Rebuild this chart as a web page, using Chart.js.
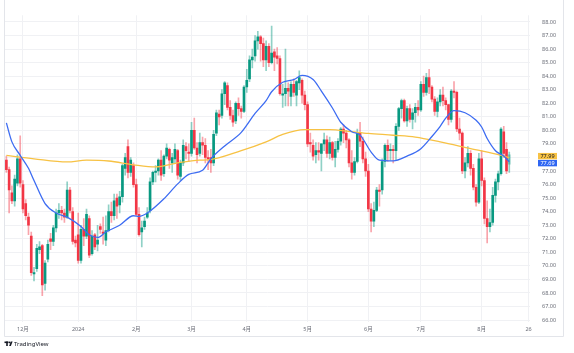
<!DOCTYPE html>
<html lang="ja">
<head>
<meta charset="UTF-8">
<title>WTI daily</title>
<script src="https://cdn.jsdelivr.net/npm/chart.js@4.4.1/dist/chart.umd.min.js"></script>
<style>
  body { margin: 0; background: #fff; }
  #wrap { width: 574px; height: 353px; }
</style>
</head>
<body>
<div id="wrap"><canvas id="chart" width="574" height="353"></canvas></div>
<script>
// trading days shown (MM/DD), Nov 2023 -> Aug 2024
const days = [
  '11/22','11/24','11/27','11/28','11/29','11/30',
  '12/01','12/04','12/05','12/06','12/07','12/08','12/11','12/12','12/13','12/14','12/15','12/18','12/19','12/20','12/21','12/22','12/26','12/27','12/28','12/29',
  '01/02','01/03','01/04','01/05','01/08','01/09','01/10','01/11','01/12','01/16','01/17','01/18','01/19','01/22','01/23','01/24','01/25','01/26','01/29','01/30','01/31',
  '02/01','02/02','02/05','02/06','02/07','02/08','02/09','02/12','02/13','02/14','02/15','02/16','02/20','02/21','02/22','02/23','02/26','02/27','02/28','02/29',
  '03/01','03/04','03/05','03/06','03/07','03/08','03/11','03/12','03/13','03/14','03/15','03/18','03/19','03/20','03/21','03/22','03/25','03/26','03/27','03/28',
  '04/01','04/02','04/03','04/04','04/05','04/08','04/09','04/10','04/11','04/12','04/15','04/16','04/17','04/18','04/19','04/22','04/23','04/24','04/25','04/26','04/29','04/30',
  '05/01','05/02','05/03','05/06','05/07','05/08','05/09','05/10','05/13','05/14','05/15','05/16','05/17','05/20','05/21','05/22','05/23','05/24','05/28','05/29','05/30','05/31',
  '06/03','06/04','06/05','06/06','06/07','06/10','06/11','06/12','06/13','06/14','06/17','06/18','06/20','06/21','06/24','06/25','06/26','06/27','06/28',
  '07/01','07/02','07/03','07/05','07/08','07/09','07/10','07/11','07/12','07/15','07/16','07/17','07/18','07/19','07/22','07/23','07/24','07/25','07/26','07/29','07/30','07/31',
  '08/01','08/02','08/05','08/06','08/07','08/08','08/09','08/12','08/13','08/14','08/15'
];
// empty slots to the right of the last candle
const futureDays = ['08/16','08/19','08/20','08/21','08/22','08/23','08/26'];

// [open, high, low, close]
const candles = [
  [77.8,78.1,76.9,77.1],[77.1,77.3,73.9,75.6],[75.4,75.9,74.6,74.8],[74.8,76.7,74.4,76.4],[76.1,78.2,75.9,77.9],[77.9,79.6,75.8,76.1],
  [76.0,76.3,73.9,74.2],[74.6,74.9,73.4,73.7],[73.6,73.9,72.3,73.0],[72.2,72.5,69.3,69.5],[69.4,69.9,68.9,69.5],[69.8,71.6,69.6,71.3],
  [71.2,71.8,70.9,71.4],[71.5,71.6,67.8,68.6],[68.7,70.4,68.2,70.2],[70.5,71.9,70.3,71.6],[72.0,72.4,71.2,71.8],[71.8,73.0,71.5,72.8],
  [72.8,74.2,72.5,73.9],[73.9,74.6,73.5,74.1],[74.1,74.4,73.4,73.9],[73.9,74.2,73.2,73.6],[73.6,76.2,73.5,75.6],[75.6,75.8,73.9,74.1],
  [74.0,74.3,71.6,71.8],[71.9,72.2,71.4,71.7],
  [72.3,73.9,70.2,70.4],[70.4,73.0,70.2,72.7],[72.7,73.5,71.5,72.2],[72.2,74.2,72.0,73.8],[73.5,73.7,70.6,70.8],[70.9,72.6,70.8,72.2],
  [72.3,72.4,71.2,71.4],[71.6,73.0,71.1,71.9],[72.9,73.1,72.4,72.7],[72.5,73.6,71.6,72.4],[71.9,73.7,71.5,72.6],[72.6,74.5,72.5,74.0],
  [74.0,74.7,73.2,73.7],[73.7,75.3,73.4,74.8],[75.0,75.3,73.5,74.4],[74.5,75.5,73.9,75.1],[75.1,77.5,74.7,77.4],[77.2,78.3,76.7,78.0],
  [78.8,79.3,76.5,76.9],[76.9,78.0,76.6,77.8],[77.4,77.6,75.8,76.0],
  [76.0,76.4,73.7,73.8],[73.8,74.3,72.2,72.3],[72.5,73.3,71.4,72.8],[72.9,73.6,72.7,73.3],[73.6,74.3,73.5,73.9],[74.1,76.5,73.9,76.2],
  [76.2,77.0,76.0,76.9],[76.9,77.4,76.2,77.0],[77.0,77.9,76.7,77.8],[77.8,78.5,76.3,76.7],[76.8,78.2,76.6,78.1],[78.1,79.0,77.9,78.7],
  [78.6,78.7,77.2,77.8],[77.6,78.3,76.9,78.0],[77.9,79.0,77.6,78.6],[78.5,78.6,76.4,76.7],[76.6,77.8,76.3,77.6],[77.6,79.3,77.4,78.9],
  [78.8,79.1,77.9,78.5],[78.4,79.0,77.7,78.3],
  [78.3,80.6,78.1,80.0],[80.0,80.9,78.6,78.7],[78.7,79.1,77.6,78.2],[78.3,79.8,78.1,79.1],[79.1,79.5,78.2,78.9],[78.9,79.4,77.6,78.0],
  [78.0,78.5,77.1,77.9],[78.0,78.6,76.9,77.6],[77.6,80.0,77.4,79.7],[79.8,81.5,79.6,81.3],[81.2,81.5,80.4,81.0],[81.1,83.0,80.9,82.7],
  [82.7,83.6,81.9,83.5],[83.3,83.5,81.5,81.7],[81.7,82.2,80.8,81.1],[81.1,81.5,80.3,80.6],[80.7,82.1,80.5,82.0],[82.0,82.4,81.1,81.6],
  [81.6,81.8,80.9,81.4],[81.4,83.3,81.3,83.2],
  [83.2,84.5,82.8,83.7],[83.8,85.5,83.6,85.2],[85.2,86.0,84.6,85.4],[85.5,87.0,85.1,86.6],[86.6,87.3,86.0,86.9],[86.9,87.0,85.1,86.4],
  [86.4,86.8,84.7,85.2],[85.2,86.6,84.4,86.2],[86.2,86.4,84.7,85.0],[85.0,87.7,84.9,85.7],[85.8,86.0,84.4,85.4],[85.5,86.1,84.9,85.3],
  [85.3,85.5,82.6,82.7],[82.6,83.4,81.7,82.7],[82.7,86.0,81.8,83.1],[83.1,83.5,81.8,82.9],[82.5,83.6,81.8,83.4],[83.4,83.8,82.5,82.8],
  [82.6,83.7,81.8,83.6],[83.5,84.4,83.0,83.9],[83.7,83.8,82.0,82.6],[82.6,82.9,81.5,81.9],
  [81.9,82.1,78.8,79.0],[79.1,79.8,78.4,79.0],[78.9,79.3,77.8,78.1],[78.2,79.1,77.6,78.5],[78.5,79.1,77.8,78.4],[78.3,79.0,77.0,79.0],
  [79.0,79.8,78.5,79.3],[79.3,79.6,78.0,78.3],[78.3,79.5,77.9,79.1],[79.1,79.2,77.8,78.0],[78.0,79.2,77.3,78.6],[78.6,79.4,78.4,79.2],
  [79.2,80.2,78.9,80.1],[80.1,80.4,79.1,79.8],[79.8,80.0,78.7,79.3],[79.3,79.4,77.3,77.6],[77.6,78.5,76.4,76.9],[76.9,78.0,76.7,77.7],
  [77.7,80.1,77.6,79.8],[79.8,80.6,78.8,79.2],[79.2,79.5,77.6,77.9],[77.9,78.4,76.6,77.0],
  [77.0,77.5,74.0,74.2],[74.2,74.6,72.5,73.3],[73.3,74.7,72.9,74.1],[74.1,75.8,74.0,75.6],[75.6,76.0,74.4,75.5],[75.6,77.9,75.3,77.7],
  [77.7,79.0,77.3,78.9],[78.9,79.3,77.7,78.5],[78.5,79.0,77.8,78.6],[78.6,78.9,77.6,78.5],[78.5,80.5,77.8,80.3],[80.3,81.7,80.0,81.6],
  [81.6,82.3,80.9,82.2],[82.2,82.3,80.6,80.7],[80.7,81.8,80.3,81.6],[81.6,81.9,80.6,80.8],[80.8,81.6,80.1,81.3],[81.3,82.0,80.6,81.7],
  [81.7,82.2,81.1,81.5],
  [81.5,83.6,81.4,83.4],[83.4,84.0,82.5,82.8],[82.8,84.2,82.6,83.9],[83.9,84.5,82.7,83.2],[83.2,83.3,82.1,82.3],[82.3,82.5,81.1,81.4],
  [81.4,82.4,81.0,82.1],[82.1,83.0,81.8,82.6],[82.6,83.2,81.8,82.2],[82.2,82.4,81.5,81.9],[81.9,81.9,80.4,80.8],[80.8,83.0,80.6,82.9],
  [82.9,83.6,82.4,82.8],[82.8,82.9,79.9,80.1],[80.1,80.9,79.3,79.8],[79.8,79.9,76.8,77.0],[77.0,78.0,76.5,77.6],[77.6,78.8,77.3,78.3],
  [78.3,78.5,76.7,77.2],[77.2,77.5,75.6,75.8],[75.8,76.0,74.4,74.7],[74.7,78.3,74.6,77.9],
  [77.9,78.5,75.9,76.3],[76.3,76.5,73.1,73.5],[73.5,74.8,71.7,72.9],[72.9,74.2,72.5,73.2],[73.2,75.8,73.0,75.2],[75.2,76.4,74.7,76.2],
  [76.2,77.0,75.6,76.8],[76.8,80.2,76.7,80.1],[79.9,80.3,78.0,78.3],[78.6,79.1,76.8,77.0],[77.5,78.4,76.9,78.2]
];

// moving averages: [bar index, value]
const maFast = [
  [0,80.55],[2,79.15],[5,78.16],[8,77.2],[10,76.3],[14,74.6],[18,73.9],[22,73.6],[27,72.9],[30,72.3],[33,72.1],
  [36,72.5],[41,73.0],[46,73.7],[48,73.65],[51,73.9],[57,74.95],[62,76.05],[66,76.75],[71,77.05],[74,77.9],
  [79,78.85],[85,79.85],[90,81.25],[94,82.2],[96,82.85],[100,83.55],[104,83.75],[107,84.05],[111,83.75],
  [114,82.9],[118,81.65],[121,80.6],[125,79.9],[128,79.65],[132,78.4],[135,77.8],[140,77.75],[145,78.1],
  [150,78.65],[154,79.55],[157,80.3],[159,80.9],[162,81.45],[166,81.3],[170,80.75],[172,80.25],[174,79.4],
  [177,78.5],[180,78.1],[182,77.69]
];
const maSlow = [
  [0,78.15],[10,77.9],[22,77.67],[29,77.8],[37,77.74],[46,77.46],[54,77.3],[62,77.6],[70,77.8],[73,77.82],
  [85,78.5],[94,79.15],[100,79.7],[108,80.05],[117,80.06],[125,79.9],[131,79.78],[140,79.64],[148,79.5],
  [157,79.15],[168,78.65],[179,78.16],[182,77.99]
];

const monthTickIdx = [6, 26, 47, 67, 87, 109, 131, 150, 172, 189];
const monthTickText = ['12月', '2024', '2月', '3月', '4月', '5月', '6月', '7月', '8月', '26'];
const priceTicks = [66,67,68,69,70,71,72,73,74,75,76,77,78,79,80,81,82,83,84,85,86,87,88];
const lastSlow = 77.99;
const lastFast = 77.69;

const UP = '#089981', DOWN = '#f23645';
const UP_WICK = 'rgba(8,153,129,0.45)', DOWN_WICK = 'rgba(242,54,69,0.45)';
const FONT = "'Noto Sans', 'Noto Sans CJK JP', sans-serif";

const allDays = days.concat(futureDays);
const bodyColors = candles.map((c, i) => {
  if (i === candles.length - 1) return 'rgba(8,153,129,0.4)';
  return c[3] >= c[0] ? UP : DOWN;
});
const wickColors = candles.map(c => c[3] >= c[0] ? UP_WICK : DOWN_WICK);

const frame = {
  id: 'frame',
  beforeDraw(chart) {
    const ctx = chart.ctx;
    ctx.save();
    ctx.fillStyle = '#fff';
    ctx.fillRect(0, 0, chart.width, chart.height);
    ctx.restore();
  },
  afterDraw(chart) {
    const ctx = chart.ctx;
    const ys = chart.scales.y;
    ctx.save();
    ctx.strokeStyle = '#e3e5ea';
    ctx.lineWidth = 1;
    ctx.beginPath();
    ctx.moveTo(4.5, 0); ctx.lineTo(4.5, 336.5); ctx.lineTo(563.5, 336.5); ctx.lineTo(563.5, 0);
    ctx.stroke();

    // last value boxes on the price scale
    let yo = ys.getPixelForValue(lastSlow), yb = ys.getPixelForValue(lastFast);
    if (yb - yo < 7) { const m = (yo + yb) / 2; yo = m - 3.5; yb = m + 3.5; }
    ctx.font = '5.5px ' + FONT;
    ctx.textAlign = 'center';
    ctx.textBaseline = 'middle';
    ctx.fillStyle = '#f7c244';
    ctx.fillRect(538, yo - 3.2, 19, 6.4);
    ctx.fillStyle = '#131722';
    ctx.fillText(lastSlow.toFixed(2), 547.5, yo + 0.3);
    ctx.fillStyle = '#2f66f2';
    ctx.fillRect(538, yb - 3.2, 19, 6.4);
    ctx.fillStyle = '#fff';
    ctx.fillText(lastFast.toFixed(2), 547.5, yb + 0.3);

    // TradingView mark
    ctx.fillStyle = '#131722';
    ctx.fillRect(4.5, 341.5, 4, 1.6);
    ctx.fillRect(6.2, 341.5, 1.6, 4.5);
    ctx.beginPath(); ctx.arc(9.6, 342.4, 0.9, 0, Math.PI * 2); ctx.fill();
    ctx.beginPath();
    ctx.moveTo(10.8, 341.5); ctx.lineTo(12.6, 341.5); ctx.lineTo(10.9, 346); ctx.lineTo(9.1, 346);
    ctx.closePath(); ctx.fill();
    ctx.font = '6px ' + FONT;
    ctx.textAlign = 'left';
    ctx.fillText('TradingView', 14, 344);
    ctx.restore();
  }
};

new Chart(document.getElementById('chart'), {
  data: {
    labels: allDays,
    datasets: [
      {
        type: 'line', label: 'MA fast',
        data: maFast.map(p => ({ x: allDays[p[0]], y: p[1] })),
        borderColor: '#3d6cf2', borderWidth: 1.3, pointRadius: 0,
        cubicInterpolationMode: 'monotone'
      },
      {
        type: 'line', label: 'MA slow',
        data: maSlow.map(p => ({ x: allDays[p[0]], y: p[1] })),
        borderColor: '#f7c244', borderWidth: 1.3, pointRadius: 0,
        cubicInterpolationMode: 'monotone'
      },
      {
        type: 'bar', label: 'body',
        data: candles.map(c => [c[0], c[3]]),
        backgroundColor: bodyColors, grouped: false,
        barThickness: 2, minBarLength: 1
      },
      {
        type: 'bar', label: 'wick',
        data: candles.map(c => [c[2], c[1]]),
        backgroundColor: wickColors, grouped: false,
        barThickness: 1
      }
    ]
  },
  options: {
    responsive: false,
    animation: false,
    devicePixelRatio: 1,
    layout: { padding: { left: 5, right: 0, top: 0, bottom: 17 } },
    plugins: { legend: { display: false }, tooltip: { enabled: false } },
    scales: {
      x: {
        type: 'category',
        offset: true,
        grid: { offset: false, color: '#f0f1f4', drawTicks: false },
        border: { display: false },
        ticks: {
          autoSkip: false, maxRotation: 0, padding: 4,
          color: '#6b6e78', font: { size: 5.5, family: FONT },
          callback: function (v) {
            const k = monthTickIdx.indexOf(v);
            return k >= 0 ? monthTickText[k] : '';
          }
        },
        afterBuildTicks: s => { s.ticks = monthTickIdx.map(v => ({ value: v })); },
        afterFit: s => { s.height = 14; }
      },
      y: {
        position: 'right',
        min: 65.86, max: 88.49,
        grid: { color: '#f0f1f4', drawTicks: false },
        border: { display: false },
        ticks: {
          padding: 12, color: '#6b6e78', font: { size: 5.5, family: FONT },
          callback: v => Number(v).toFixed(2)
        },
        afterBuildTicks: s => { s.ticks = priceTicks.map(v => ({ value: v })); },
        afterFit: s => { s.width = 44; }
      }
    }
  },
  plugins: [frame]
});
</script>
</body>
</html>
